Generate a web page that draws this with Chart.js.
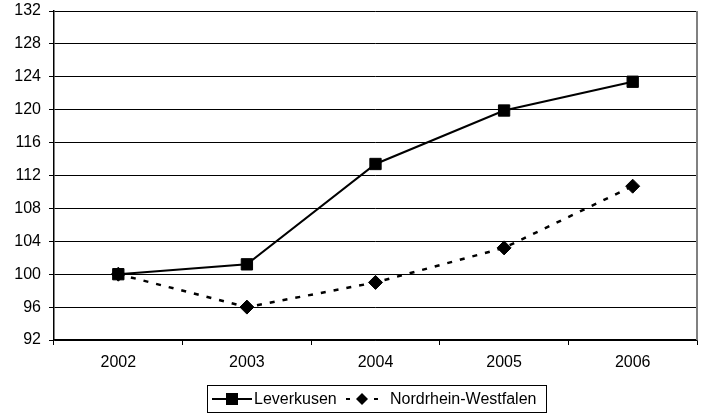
<!DOCTYPE html>
<html>
<head>
<meta charset="utf-8">
<script src="https://cdn.jsdelivr.net/npm/chart.js@4/dist/chart.umd.min.js"></script>
<style>
  html, body { margin: 0; padding: 0; background: #fff; }
  #wrap { width: 702px; height: 416px; position: relative; }
</style>
</head>
<body>
<div id="wrap"><canvas id="indexChart"></canvas></div>
<script>
const years = ['2002', '2003', '2004', '2005', '2006'];
const leverkusen = [100, 101.2, 113.4, 119.9, 123.4];
const nrw = [100, 96, 99, 103.2, 110.7];
const yTicks = [92, 96, 100, 104, 108, 112, 116, 120, 124, 128, 132];

const FONT = 'Arial, "Liberation Sans", sans-serif';

// legend box under the plot + grey right edge of the plot
const extras = {
    id: 'extras',
    afterDraw(chart) {
        const ctx = chart.ctx;
        const a = chart.chartArea;
        ctx.save();
        ctx.strokeStyle = '#808080';
        ctx.lineWidth = 2;
        ctx.beginPath();
        ctx.moveTo(a.right, a.top);
        ctx.lineTo(a.right, a.bottom);
        ctx.stroke();

        const bx = 207, by = 385, bw = 339, bh = 27;
        ctx.strokeStyle = '#000';
        ctx.lineWidth = 1;
        ctx.strokeRect(bx + 0.5, by + 0.5, bw, bh);

        const cy = by + bh / 2 + 0.5;
        ctx.font = '16px ' + FONT;
        ctx.textBaseline = 'middle';
        ctx.fillStyle = '#000';

        // Leverkusen
        ctx.lineWidth = 2;
        ctx.setLineDash([]);
        ctx.beginPath();
        ctx.moveTo(bx + 5, cy);
        ctx.lineTo(bx + 45, cy);
        ctx.stroke();
        ctx.fillRect(bx + 19, cy - 6, 12, 12);
        ctx.fillText('Leverkusen', bx + 47, cy + 1);

        // Nordrhein-Westfalen
        ctx.beginPath();
        ctx.moveTo(bx + 139, cy); ctx.lineTo(bx + 143, cy);
        ctx.moveTo(bx + 167, cy); ctx.lineTo(bx + 171, cy);
        ctx.stroke();
        ctx.beginPath();
        ctx.moveTo(bx + 155, cy - 6);
        ctx.lineTo(bx + 161, cy);
        ctx.lineTo(bx + 155, cy + 6);
        ctx.lineTo(bx + 149, cy);
        ctx.closePath();
        ctx.fill();
        ctx.fillText('Nordrhein-Westfalen', bx + 183, cy + 1);
        ctx.restore();
    }
};

new Chart(document.getElementById('indexChart'), {
    type: 'line',
    data: {
        labels: years,
        datasets: [
            {
                label: 'Leverkusen',
                data: leverkusen,
                borderColor: '#000',
                backgroundColor: '#000',
                borderWidth: 2,
                pointStyle: 'rect',
                pointRadius: 8,
                pointBorderWidth: 1,
                tension: 0
            },
            {
                label: 'Nordrhein-Westfalen',
                data: nrw,
                borderColor: '#000',
                backgroundColor: '#000',
                borderWidth: 2.5,
                borderDash: [5, 8],
                pointStyle: 'rectRot',
                pointRadius: 7,
                pointBorderWidth: 1,
                tension: 0
            }
        ]
    },
    options: {
        responsive: true,
        maintainAspectRatio: false,
        animation: false,
        layout: { autoPadding: false, padding: { top: 11, right: 5, left: 0, bottom: 0 } },
        plugins: {
            legend: { display: false },
            tooltip: { enabled: false }
        },
        scales: {
            x: {
                offset: true,
                grid: {
                    offset: true,
                    drawOnChartArea: false,
                    drawTicks: true,
                    tickLength: 5,
                    color: '#000'
                },
                border: { color: '#000', width: 1.5 },
                ticks: {
                    color: '#000',
                    padding: 8,
                    maxRotation: 0,
                    font: { family: FONT, size: 16 }
                },
                afterFit: function (scale) {
                    scale.height = 76;
                    scale.paddingLeft = 0;
                    scale.paddingRight = 0;
                }
            },
            y: {
                min: 92,
                max: 132,
                afterBuildTicks: function (scale) {
                    scale.ticks = yTicks.map(v => ({ value: v }));
                },
                grid: {
                    color: '#000',
                    lineWidth: 1,
                    tickLength: 5
                },
                border: { color: '#000', width: 1.5 },
                ticks: {
                    color: '#000',
                    padding: 8,
                    font: { family: FONT, size: 16 }
                },
                afterFit: function (scale) {
                    scale.width = 54;
                    scale.paddingTop = 0;
                    scale.paddingBottom = 0;
                }
            }
        }
    },
    plugins: [extras]
});
</script>
</body>
</html>
